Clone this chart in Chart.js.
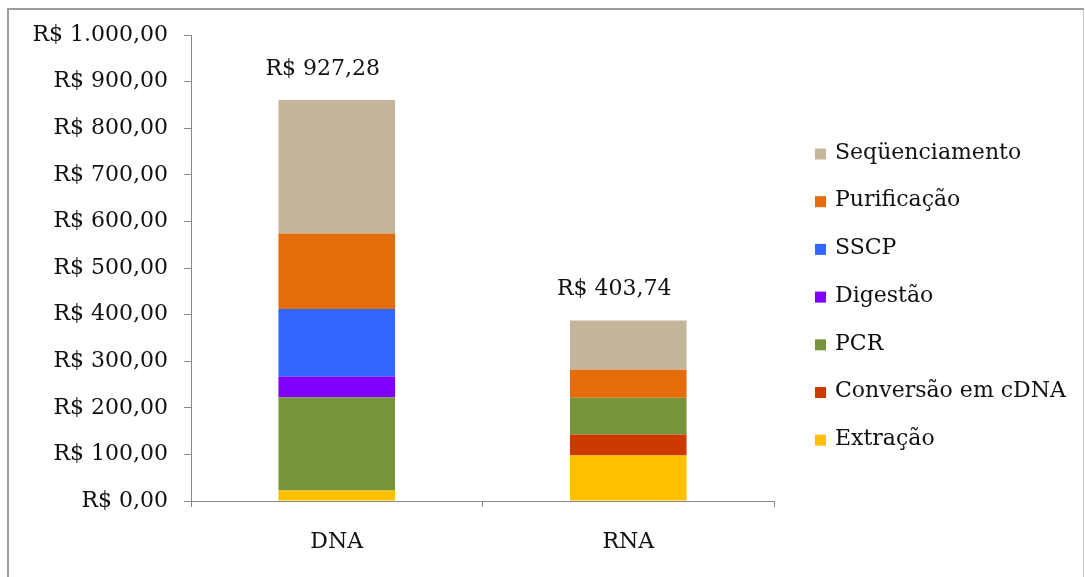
<!DOCTYPE html>
<html>
<head>
<meta charset="utf-8">
<script src="https://cdn.jsdelivr.net/npm/chart.js@4/dist/chart.umd.min.js"></script>
<style>
  body { margin: 0; background: #fff; }
  #wrap { position: relative; width: 1085px; height: 577px; overflow: hidden; }
  #frame { position: absolute; left: 7px; top: 8px; width: 1074px; height: 700px;
           border-top: 2px solid #9c9c9c; border-left: 2px solid #9c9c9c; border-right: 1px solid #c8c8c8; }
  canvas { position: absolute; left: 0; top: 0; }
</style>
</head>
<body>
<div id="wrap">
  <div id="frame"></div>
  <canvas id="custos" width="1085" height="577"></canvas>
</div>
<script>
// Custo por amostra, por etapa (R$)
const categories = ['DNA', 'RNA'];
const extracao = [22.5, 97.7];
const conversao = [0, 45];
const pcr = [200, 78.8];
const digestao = [44.4, 0];
const sscp = [145, 0];
const purificacao = [162, 60];
const sequenciamento = [286.4, 106];

// Totais informados acima de cada coluna
const totalLabels = ['R$ 927,28', 'R$ 403,74'];

const yTickLabels = ['R$ 0,00', 'R$ 100,00', 'R$ 200,00', 'R$ 300,00', 'R$ 400,00',
    'R$ 500,00', 'R$ 600,00', 'R$ 700,00', 'R$ 800,00', 'R$ 900,00', 'R$ 1.000,00'];

const FONT = "'DejaVu Serif', serif";
const AXIS_GRAY = '#868686';

// legenda desenhada à direita, na ordem inversa do empilhamento
const legendaDireita = {
    id: 'legendaDireita',
    afterDraw(chart, args, opts) {
        const ctx = chart.ctx;
        const sets = chart.data.datasets.slice().reverse();
        ctx.save();
        ctx.font = opts.size + 'px ' + FONT;
        ctx.textBaseline = 'middle';
        ctx.textAlign = 'left';
        sets.forEach((ds, i) => {
            const y = opts.top + i * opts.step;
            ctx.fillStyle = ds.backgroundColor;
            ctx.fillRect(opts.x, y - opts.box / 2 + 1, opts.box, opts.box);
            ctx.fillStyle = '#111';
            ctx.fillText(ds.label, opts.x + opts.box + 9, y);
        });
        ctx.restore();
    }
};

// rótulo de total sobre cada coluna
const rotuloTotal = {
    id: 'rotuloTotal',
    afterDatasetsDraw(chart, args, opts) {
        const ctx = chart.ctx;
        const meta = chart.getDatasetMeta(chart.data.datasets.length - 1);
        ctx.save();
        ctx.font = opts.size + 'px ' + FONT;
        ctx.fillStyle = '#111';
        ctx.textAlign = 'center';
        ctx.textBaseline = 'alphabetic';
        meta.data.forEach((bar, i) => {
            ctx.fillText(totalLabels[i], bar.x + opts.dx, bar.y + opts.dy);
        });
        ctx.restore();
    }
};

function serie(label, data, color) {
    return { label: label, data: data, backgroundColor: color, borderWidth: 0 };
}

new Chart(document.getElementById('custos'), {
    type: 'bar',
    data: {
        labels: categories,
        datasets: [
            serie('Extração', extracao, '#FFC000'),
            serie('Conversão em cDNA', conversao, '#CC3A00'),
            serie('PCR', pcr, '#77933C'),
            serie('Digestão', digestao, '#7F00FF'),
            serie('SSCP', sscp, '#3366FF'),
            serie('Purificação', purificacao, '#E46C0A'),
            serie('Seqüenciamento', sequenciamento, '#C4B59B')
        ]
    },
    options: {
        responsive: false,
        devicePixelRatio: 1,
        animation: false,
        datasets: { bar: { categoryPercentage: 1, barPercentage: 0.4 } },
        layout: { padding: { left: 0, top: 35, right: 311, bottom: 0 } },
        plugins: {
            legend: { display: false },
            tooltip: { enabled: false },
            legendaDireita: { x: 815, top: 153, step: 47.7, box: 11, size: 22 },
            rotuloTotal: { dx: -14, dy: -25, size: 22 }
        },
        scales: {
            x: {
                stacked: true,
                offset: true,
                afterFit: (scale) => { scale.height = 76; },
                border: { color: AXIS_GRAY, width: 1 },
                grid: { drawOnChartArea: false, offset: true, tickLength: 6, color: AXIS_GRAY },
                ticks: { color: '#111', padding: 22, font: { family: FONT, size: 22 } }
            },
            y: {
                stacked: true,
                min: 0,
                max: 1000,
                afterFit: (scale) => { scale.width = 191; },
                border: { color: AXIS_GRAY, width: 1 },
                grid: { drawOnChartArea: false, tickLength: 7, color: AXIS_GRAY },
                ticks: {
                    stepSize: 100,
                    color: '#111',
                    padding: 16,
                    font: { family: FONT, size: 22 },
                    callback: (value, index) => yTickLabels[index]
                }
            }
        }
    },
    plugins: [legendaDireita, rotuloTotal]
});
</script>
</body>
</html>
